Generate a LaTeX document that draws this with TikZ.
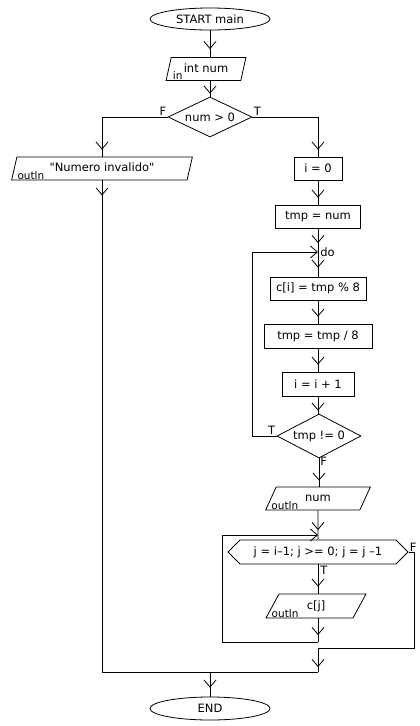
\documentclass[tikz,border=0pt]{standalone}
\usepackage{fontspec}
\setmainfont{DejaVu Sans}
\setmonofont{DejaVu Sans}
\usetikzlibrary{shapes.geometric,shapes.symbols,arrows.meta,decorations.markings}

\begin{document}
\begin{tikzpicture}[x=1pt,y=-1pt,line width=0.8pt,font=\fontsize{11.5}{13}\selectfont,
  flowtip/.tip={Straight Barb[length=7pt,width=12pt]},
  term/.style={draw, ellipse, inner sep=0pt, minimum width=120pt, minimum height=22pt},
  box/.style={draw, rectangle, inner sep=0pt, minimum height=23pt},
  io/.style={draw, trapezium, trapezium left angle=72, trapezium right angle=108, trapezium stretches=true, inner sep=0pt, minimum height=23pt, text height=8pt, text depth=2pt},
  cond/.style={draw, diamond, aspect=2, inner sep=0pt, minimum width=84pt, minimum height=40pt},
  loopbox/.style={draw, signal, signal to=west and east, signal pointer angle=90, inner sep=0pt, minimum height=24pt},
  tag/.style={font=\fontsize{10.5}{12}\selectfont, inner sep=0pt},
  lbl/.style={inner sep=0pt},
  flow/.style={decoration={markings, mark=at position #1 with {\arrow{flowtip}}}, postaction={decorate}},
  flow/.default=-7pt,
  back/.style={-{flowtip}}]
\useasboundingbox (0,0) rectangle (420,726);

\node[term] (start) at (210,19) {START main};
\node[io, minimum width=80pt] (in) at (206,69) {int num};
\node[tag, anchor=base west] (intag) at ([xshift=7pt,yshift=1pt]in.bottom left corner) {in};
\node[cond] (c1) at (210,117) {num > 0};
\node[lbl, anchor=south east] (c1f) at ([xshift=-1pt,yshift=1pt]c1.west) {F};
\node[lbl, anchor=south west] (c1t) at ([xshift=1pt,yshift=1pt]c1.east) {T};
\node[io, minimum width=181pt] (err) at (102,168.5) {{\ttfamily"}Numero invalido{\ttfamily"}};
\node[tag, anchor=base west] (errtag) at ([xshift=6pt,yshift=1pt]err.bottom left corner) {outln};
\node[box, minimum width=48pt] (i0) at (318,168.5) {i = 0};
\node[box, minimum width=85pt] (tmp) at (318,216.5) {tmp = num};
\coordinate (do) at (318,252);
\node[lbl, anchor=west] (dolbl) at ([xshift=2pt]do) {do};
\node[box, minimum width=96pt] (mod) at (318,288.5) {c[i] = tmp \% 8};
\node[box, minimum width=108pt, minimum height=24pt] (div) at (318,336) {tmp = tmp / 8};
\node[box, minimum width=72pt, minimum height=24pt] (inc) at (318,384) {i = i + 1};
\node[cond, minimum height=44pt] (c2) at (319,436) {tmp != 0};
\node[lbl, anchor=south east] (c2t) at ([xshift=-1pt,yshift=1pt]c2.west) {T};
\node[lbl, anchor=north west] (c2f) at ([xshift=1pt,yshift=2pt]c2.south) {F};
\coordinate (loopL) at (252,436);
\node[io, minimum width=105pt] (outn) at (318,498.5) {num};
\node[tag, anchor=base west] (outntag) at ([xshift=6pt,yshift=1pt]outn.bottom left corner) {outln};
\coordinate (forin) at (318,535);
\node[loopbox, minimum width=180pt] (for) at (318,552) {j = i--1; j >= 0; j = j --1};
\node[lbl, anchor=south west] (forf) at ([xshift=1pt]for.east) {F};
\node[lbl, anchor=north west] (fort) at ([xshift=2pt,yshift=-1pt]for.south) {T};
\node[io, minimum width=100pt, minimum height=24pt] (outc) at (316,606) {c[j]};
\node[tag, anchor=base west] (outctag) at ([xshift=6pt,yshift=1pt]outc.bottom left corner) {outln};
\coordinate (forB) at (318,642);
\coordinate (forL) at (222,642);
\coordinate (exitR) at (414,648);
\coordinate (exitC) at (318,648);
\coordinate (mrgR) at (318,672);
\coordinate (mrg) at (210,672);
\node[term, minimum height=23pt] (end) at (210,708.5) {END};

\draw[flow=-8pt] (start.south) -- (start.south |- in.north);
\draw[flow=-3pt] (c1.north |- in.south) -- (c1.north);
\draw[flow] (c1.west) -| (err.north);
\draw[flow] (c1.east) -| (i0.north);
\draw[flow=15pt] (err.south) |- (mrgR);
\draw[flow] (i0) -- (tmp);
\draw[flow=-9pt] (tmp) -- (do);
\draw[flow=-9pt] (do) -- (mod);
\draw[flow] (mod) -- (div);
\draw[flow] (div) -- (inc);
\draw[flow=-3pt] (inc) -- (inc |- c2.north);
\draw[back] (c2.west) -- (loopL) |- (do);
\draw[flow=-6pt] (c2.south) -- (c2.south |- outn.north);
\draw[flow=-5pt] (outn) -- (forin);
\draw (forin) -- (for);
\draw[flow] (for.south) -- (for.south |- outc.north);
\draw[flow] (for.south |- outc.south) -- (forB);
\draw[back] (forB) -- (forL) |- (forin);
\draw[flow=-5pt] (for.east) -| (exitR) -- (exitC) -- (mrgR);
\draw[flow=-9pt] (mrg) -- (end);
\end{tikzpicture}
\end{document}
